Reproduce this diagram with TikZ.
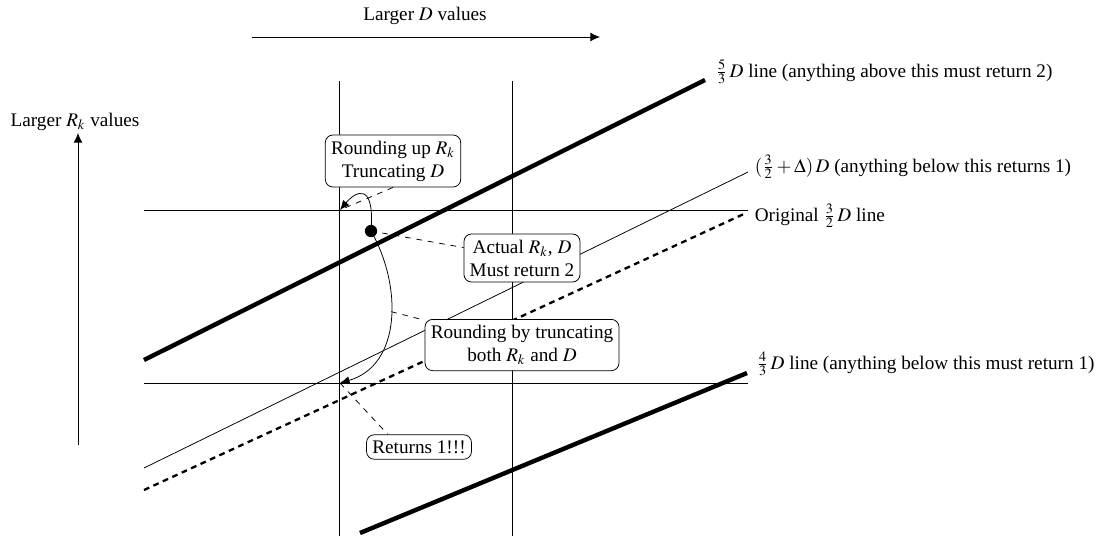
\documentclass[tikz,border=0pt]{standalone}
\usepackage{mathptmx}
\usepackage{fontspec}
\setmainfont{Liberation Serif}
\usepackage{tikz}
\usetikzlibrary{arrows.meta}
\tikzset{
  note/.style={draw,rounded corners=4pt,align=center,fill=white,inner sep=3pt},
  bound/.style={line width=2.3pt},
  shifted/.style={very thick,dash pattern=on 3pt off 2.4pt},
  lead/.style={dashed},
  bigarr/.style={-{Latex[length=5pt,width=4.6pt]}},
  arr/.style={-{Latex[length=5pt,width=4.2pt]}},
}
\begin{document}
\begin{tikzpicture}[x=0.0183cm,y=-0.0183cm]
  \useasboundingbox (0,0) rectangle (1102,536);
  % direction hints
  \node (dlab) at (425,16) {Larger $D$ values};
  \coordinate (d0) at (252,37);
  \coordinate (d1) at (600,37);
  \draw[bigarr] (d0) -- (d1);
  \node (rlab) at (75,122) {Larger $R_k$ values};
  \coordinate (r0) at (78,445);
  \coordinate (r1) at (78,133);
  \draw[bigarr] (r0) -- (r1);
  % grid of truncated values
  \foreach \x/\n in {339/a,512/b}{
    \coordinate (v\n0) at (\x,81);
    \coordinate (v\n1) at (\x,536);
    \draw (v\n0) -- (v\n1);
  }
  \foreach \y/\n in {210/a,383/b}{
    \coordinate (h\n0) at (144,\y);
    \coordinate (h\n1) at (748,\y);
    \draw (h\n0) -- (h\n1);
  }
  % bounding lines
  \coordinate (hiL) at (144,360);
  \coordinate (hiR) at (705,80);
  \draw[bound] (hiL) -- (hiR);
  \coordinate (loL) at (360,533);
  \coordinate (loR) at (747,373);
  \draw[bound] (loL) -- (loR);
  \coordinate (dlL) at (144,468);
  \coordinate (dlR) at (748,172);
  \draw (dlL) -- (dlR);
  \coordinate (orL) at (144,490);
  \coordinate (orR) at (746,213);
  \draw[shifted] (orL) -- (orR);
  \node[anchor=west] (hilab) at (709,72) {$\frac{5}{3}\,D$ line (anything above this must return 2)};
  \node[anchor=west] (dllab) at (748,167) {$(\frac{3}{2}+\Delta)\,D$ (anything below this returns 1)};
  \node[anchor=west] (orlab) at (748,216) {Original $\frac{3}{2}\,D$ line};
  \node[anchor=west] (lolab) at (750,364) {$\frac{4}{3}\,D$ line (anything below this must return 1)};
  % rounding paths
  \coordinate (actual) at (371,231);
  \coordinate (upT) at (340,210);
  \coordinate (dnT) at (340,383);
  \draw[arr] (actual) .. controls (375,180) and (355,192) .. (upT);
  \draw[arr] (actual) .. controls (402,285) and (402,365) .. (dnT)
    coordinate[pos=0.45] (mid);
  \fill (actual) circle (3.2pt);
  % notes
  \node[note] (up) at (393,161) {Rounding up $R_k$\\Truncating $D$};
  \node[note] (act) at (522,258) {Actual $R_k$, $D$\\Must return 2};
  \node[note] (trunc) at (522,345) {Rounding by truncating\\both $R_k$ and $D$};
  \node[note] (ret) at (419,447) {Returns 1!!!};
  \draw[lead] (up.south) -- (upT);
  \draw[lead] (actual) -- (act);
  \draw[lead] (mid) -- (trunc);
  \draw[lead] (dnT) -- (ret.158);
\end{tikzpicture}
\end{document}
